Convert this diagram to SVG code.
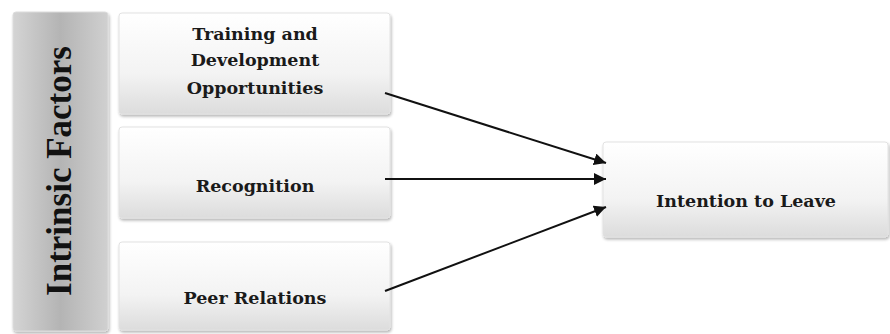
<svg xmlns="http://www.w3.org/2000/svg" width="890" height="334" viewBox="0 0 890 334">
<defs>
<linearGradient id="gBox" x1="0" y1="0" x2="0" y2="1">
<stop offset="0" stop-color="#ffffff"/>
<stop offset="0.6" stop-color="#f3f3f3"/>
<stop offset="1" stop-color="#dcdcdc"/>
</linearGradient>
<linearGradient id="gSide" x1="0" y1="0" x2="1" y2="0">
<stop offset="0" stop-color="#d4d4d4"/>
<stop offset="0.5" stop-color="#b4b4b4"/>
<stop offset="1" stop-color="#d0d0d0"/>
</linearGradient>
<filter id="sh" x="-10%" y="-10%" width="120%" height="130%">
<feGaussianBlur in="SourceAlpha" stdDeviation="1.5"/>
<feOffset dx="1" dy="2" result="b"/>
<feComponentTransfer><feFuncA type="linear" slope="0.3"/></feComponentTransfer>
<feMerge><feMergeNode/><feMergeNode in="SourceGraphic"/></feMerge>
</filter>
<marker id="ah" viewBox="0 0 10 10" refX="10" refY="5" markerWidth="6" markerHeight="6" orient="auto" markerUnits="strokeWidth">
<path d="M0,0 L10,5 L0,10 z" fill="#111"/>
</marker>
</defs>
<style>
.box{fill:url(#gBox);stroke:#e2e2e2;stroke-width:1;filter:url(#sh)}
.side{fill:url(#gSide);stroke:#dcdcdc;stroke-width:1;filter:url(#sh)}
.t{font-family:"DejaVu Serif","Liberation Serif",serif;font-weight:bold;font-size:17.5px;fill:#1a1a1a;text-anchor:middle}
.v{font-family:"Liberation Serif",serif;font-weight:bold;font-size:35px;fill:#111;text-anchor:middle}
.c{stroke:#111;stroke-width:2;fill:none;marker-end:url(#ah)}
</style>
<rect width="890" height="334" fill="#ffffff"/>
<g id="intrinsic">
<rect class="side" x="13" y="12" width="95" height="319" rx="3"/>
<text class="v" transform="translate(71,171) rotate(-90)">Intrinsic Factors</text>
</g>
<g id="training">
<rect class="box" x="119" y="13" width="271" height="101" rx="3"/>
<text class="t" x="255" y="40">Training and</text>
<text class="t" x="255" y="66">Development</text>
<text class="t" x="255" y="94">Opportunities</text>
</g>
<g id="recognition">
<rect class="box" x="119" y="127" width="271" height="91" rx="3"/>
<text class="t" x="255" y="192">Recognition</text>
</g>
<g id="peer">
<rect class="box" x="119" y="242" width="271" height="88" rx="3"/>
<text class="t" x="255" y="304">Peer Relations</text>
</g>
<g id="intention">
<rect class="box" x="603" y="142" width="285" height="95" rx="3"/>
<text class="t" x="746" y="207">Intention to Leave</text>
</g>
<g id="connectors">
<line class="c" x1="385" y1="93" x2="606" y2="163"/>
<line class="c" x1="385" y1="179" x2="606" y2="179"/>
<line class="c" x1="385" y1="291" x2="606" y2="207"/>
</g>
</svg>
